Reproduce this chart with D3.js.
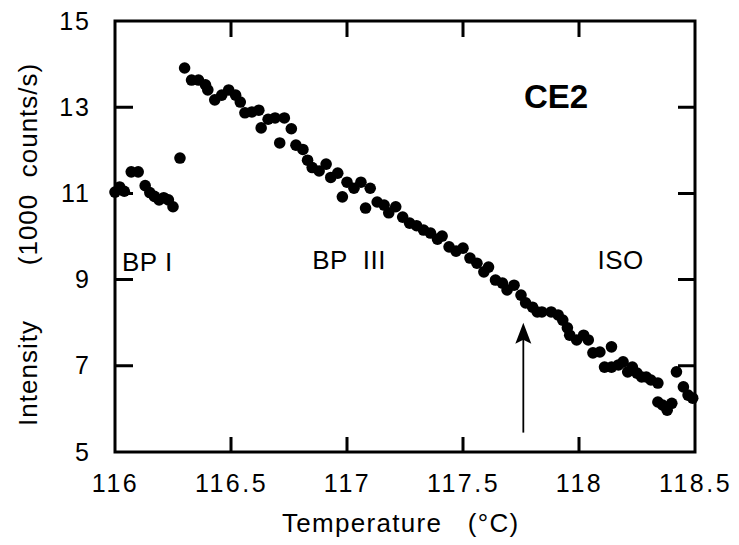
<!DOCTYPE html>
<html><head><meta charset="utf-8">
<script src="https://cdn.jsdelivr.net/npm/d3@7"></script>
<style>body{margin:0;background:#fff}svg{display:block}</style>
</head><body>
<svg id="c" width="739" height="545"></svg>
<script>
const temps = [116.00,116.02,116.04,116.07,116.10,116.13,116.15,116.17,116.19,116.21,116.23,116.25,116.28,
116.30,116.33,116.36,116.39,116.40,116.43,116.46,116.49,116.52,116.54,116.56,116.59,116.62,116.63,116.66,116.69,116.71,116.73,116.76,116.78,116.81,116.83,116.85,116.88,116.91,116.93,116.96,116.98,117.00,117.03,117.06,117.08,117.10,117.13,117.16,117.18,117.21,117.24,117.27,117.30,117.33,117.36,117.39,117.41,117.44,117.47,117.50,117.53,117.56,117.59,117.61,117.64,117.67,117.69,117.72,117.75,117.77,117.80,117.82,117.84,117.88,117.91,117.93,117.95,117.96,117.99,118.02,118.04,118.06,118.09,118.11,118.14,118.14,118.17,118.19,118.21,118.23,118.25,118.27,118.29,118.31,118.34,118.34,118.36,118.38,118.40,118.42,118.45,118.47,118.49];
const intensity = [11.03,11.15,11.05,11.50,11.50,11.18,11.02,10.93,10.85,10.90,10.85,10.69,11.82,
13.91,13.63,13.63,13.52,13.40,13.17,13.28,13.40,13.28,13.12,12.87,12.89,12.93,12.52,12.72,12.75,12.17,12.75,12.50,12.12,12.02,11.77,11.60,11.52,11.68,11.37,11.47,10.92,11.26,11.12,11.26,10.66,11.12,10.80,10.73,10.55,10.69,10.45,10.31,10.25,10.15,10.08,9.94,10.01,9.76,9.66,9.73,9.50,9.38,9.18,9.29,8.99,8.92,8.76,8.87,8.64,8.46,8.36,8.25,8.25,8.25,8.18,8.06,7.88,7.71,7.60,7.71,7.60,7.30,7.32,6.97,7.44,6.97,7.02,7.09,6.86,6.97,6.83,6.74,6.74,6.67,6.60,6.16,6.09,5.97,6.13,6.86,6.51,6.32,6.25];
const xTicks = [116,116.5,117,117.5,118,118.5];
const xTickLabels = ["116","116.5","117","117.5","118","118.5"];
const yTicks = [5,7,9,11,13,15];
const innerY = [7,9,11,13];
const innerX = [116.5,117,117.5,118];
const phaseLabels = ["BP I","BP  III","ISO"];
const phaseX = [116.03,116.85,118.08];
const phaseY = [9.2,9.25,9.25];
const arrowT = 117.76;
const arrowFrom = 5.45, arrowTo = 8.0;

const svg = d3.select("#c");
const M = {l:115,t:21,r:695,b:452};
const x = d3.scaleLinear().domain([116,118.5]).range([M.l,M.r]);
const y = d3.scaleLinear().domain([5,15]).range([M.b,M.t]);
const font = "'Liberation Sans', Arial, Helvetica, sans-serif";

function styleAxis(g){
  g.select(".domain").remove();
  g.selectAll("line").remove();
  g.selectAll("text").attr("font-family",font).attr("font-size",25).attr("fill","#000");
}
svg.append("g").attr("transform",`translate(${M.l},0)`)
  .call(d3.axisLeft(y).tickValues(yTicks).tickFormat(d3.format("d")).tickSizeInner(0).tickPadding(24))
  .call(styleAxis).call(g=>g.selectAll("text").attr("letter-spacing","2px"));
svg.append("g").attr("transform",`translate(0,${M.b})`)
  .call(d3.axisBottom(x).tickValues(xTicks).tickFormat((d,i)=>xTickLabels[i]).tickSizeInner(0).tickPadding(22))
  .call(styleAxis).call(g=>g.selectAll("text").attr("letter-spacing","2.5px"));

svg.append("rect").attr("x",M.l).attr("y",M.t).attr("width",M.r-M.l).attr("height",M.b-M.t)
  .attr("fill","none").attr("stroke","#000").attr("stroke-width",3);

const p = d3.path();
innerY.forEach(v=>{ p.moveTo(M.l, y(v)); p.lineTo(M.l+18, y(v)); p.moveTo(M.r, y(v)); p.lineTo(M.r-17, y(v)); });
innerX.forEach(v=>{ p.moveTo(x(v), M.b); p.lineTo(x(v), M.b-15); p.moveTo(x(v), M.t); p.lineTo(x(v), M.t+16); });
svg.append("path").attr("d",p.toString()).attr("fill","none").attr("stroke","#000").attr("stroke-width",3);

svg.append("g").selectAll("circle").data(temps).join("circle")
  .attr("cx",d=>x(d)).attr("cy",(d,i)=>y(intensity[i])).attr("r",5.8).attr("fill","#000");

svg.append("g").selectAll("text").data(phaseLabels).join("text")
  .attr("x",(d,i)=>x(phaseX[i])).attr("y",(d,i)=>y(phaseY[i]))
  .attr("font-family",font).attr("font-size",26).attr("letter-spacing","0.5px")
  .style("white-space","pre").text(d=>d);

svg.append("text").attr("x",524).attr("y",108).attr("font-family",font)
  .attr("font-weight","bold").attr("font-size",33).text("CE2");

// arrow
const ax = x(arrowT), ay0 = y(arrowFrom), ay1 = y(arrowTo);
svg.append("line").attr("x1",ax).attr("x2",ax).attr("y1",ay0).attr("y2",ay1+10)
  .attr("stroke","#000").attr("stroke-width",1.8);
svg.append("path").attr("d",`M${ax},${ay1} L${ax-8},${ay1+21} L${ax},${ay1+17} L${ax+8},${ay1+21} Z`)
  .attr("fill","#000");

svg.append("text").attr("x",282).attr("y",532)
  .attr("font-family",font).attr("font-size",26).attr("letter-spacing","1.3px")
  .style("white-space","pre").text("Temperature   (°C)");
svg.append("text").attr("transform","translate(37,373) rotate(-90)").attr("text-anchor","middle")
  .attr("font-family",font).attr("font-size",26).attr("letter-spacing","1px").text("Intensity");
svg.append("text").attr("transform","translate(37,164) rotate(-90)").attr("text-anchor","middle")
  .attr("font-family",font).attr("font-size",26).attr("letter-spacing","1px")
  .style("white-space","pre").text("(1000  counts/s)");
</script>
</body></html>
